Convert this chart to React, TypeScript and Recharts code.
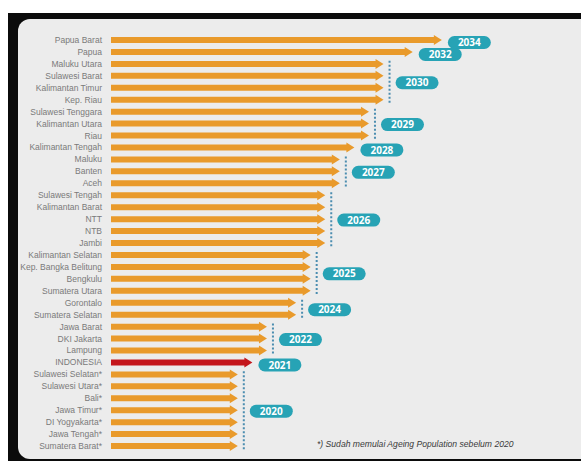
import { BarChart, Bar, XAxis, YAxis, ReferenceLine } from 'recharts';

const provinces = [
  'Papua Barat', 'Papua', 'Maluku Utara', 'Sulawesi Barat', 'Kalimantan Timur', 'Kep. Riau',
  'Sulawesi Tenggara', 'Kalimantan Utara', 'Riau', 'Kalimantan Tengah', 'Maluku', 'Banten', 'Aceh',
  'Sulawesi Tengah', 'Kalimantan Barat', 'NTT', 'NTB', 'Jambi', 'Kalimantan Selatan',
  'Kep. Bangka Belitung', 'Bengkulu', 'Sumatera Utara', 'Gorontalo', 'Sumatera Selatan',
  'Jawa Barat', 'DKI Jakarta', 'Lampung', 'INDONESIA', 'Sulawesi Selatan*', 'Sulawesi Utara*',
  'Bali*', 'Jawa Timur*', 'DI Yogyakarta*', 'Jawa Tengah*', 'Sumatera Barat*',
];

// year each province starts its ageing population
const years = [
  2034, 2032, 2030, 2030, 2030, 2030,
  2029, 2029, 2029, 2028, 2027, 2027, 2027,
  2026, 2026, 2026, 2026, 2026, 2025,
  2025, 2025, 2025, 2024, 2024,
  2022, 2022, 2022, 2021, 2020, 2020,
  2020, 2020, 2020, 2020, 2020,
];

const highlight = 'INDONESIA';
const footnote = '*) Sudah memulai Ageing Population sebelum 2020';

const data = provinces.map((name, i) => ({ name, year: years[i] }));

// consecutive rows with the same year share one badge
const groups: { year: number; from: string; to: string }[] = [];
provinces.forEach((p, i) => {
  const last = groups[groups.length - 1];
  if (last && last.year === years[i]) last.to = p;
  else groups.push({ year: years[i], from: p, to: p });
});

const ORANGE = '#e99a2b';
const RED = '#c4161c';
const TEAL = '#27a3b5';
const DOTS = '#4b8db0';
const FONT = "'Liberation Sans', Arial, sans-serif";

function Arrow(props: any) {
  const { x, y, width, height, payload } = props;
  const head = 8;
  const cy = y + height / 2;
  const end = x + width;
  const fill = payload.name === highlight ? RED : ORANGE;
  return (
    <path
      d={`M${x},${y} H${end - head} V${cy - 5} L${end},${cy} L${end - head},${cy + 5} V${y + height} H${x} Z`}
      fill={fill}
    />
  );
}

function ProvinceTick({ x, y, payload }: any) {
  return (
    <text x={x} y={y} dy={3} textAnchor="end" fill="#7a7a7a" fontSize={8.5} fontFamily={FONT}>
      {payload.value}
    </text>
  );
}

function YearBadge(props: any) {
  const { x1, y1, y2, year } = props;
  const dx = x1 + 6;
  const multi = Math.abs(y2 - y1) > 1;
  const mid = multi ? (y1 + y2) / 2 + 1 : y1 + 2.5;
  const bx = multi ? dx + 6 : x1 + 6;
  return (
    <g>
      {multi && (
        <line x1={dx} x2={dx} y1={y1 - 3} y2={y2 + 5}
          stroke={DOTS} strokeWidth={2} strokeDasharray="2 2" />
      )}
      <rect x={bx} y={mid - 6.5} width={43} height={13} rx={6.5} fill={TEAL} />
      <text x={bx + 21.5} y={mid + 3.6} textAnchor="middle" fill="#fff"
        fontSize={10} fontWeight={700} fontFamily="'Open Sans', sans-serif">
        {year}
      </text>
    </g>
  );
}

export default function App() {
  return (
    <div style={{ position: 'absolute', left: 0, top: 0, width: 581, height: 462, background: '#fff' }}>
      <svg width={581} height={462} style={{ position: 'absolute', left: 0, top: 0 }}>
        <rect x={8} y={13} width={573} height={448} fill="#0b0b0b" />
        <rect x={18} y={19} width={590} height={440} rx={12} fill="#ececec" />
        <text x={317} y={447} fontSize={8.6} fontStyle="italic" fill="#3a3a3a" fontFamily={FONT}>
          {footnote}
        </text>
      </svg>
      <div style={{ position: 'absolute', left: 0, top: 0 }}>
        <BarChart width={581} height={462} data={data} layout="vertical"
          margin={{ top: 34, right: 110, bottom: 10, left: 8 }}>
          <XAxis type="number" dataKey="year" domain={[2011.3, 2036]} hide allowDataOverflow />
          <YAxis
            type="category" dataKey="name" width={103} interval={0}
            axisLine={false} tickLine={false} tickMargin={3}
            tick={<ProvinceTick />}
          />
          <Bar dataKey="year" barSize={6} shape={<Arrow />} isAnimationActive={false} />
          {groups.map(g => (
            <ReferenceLine
              key={g.year}
              segment={[{ x: g.year, y: g.from }, { x: g.year, y: g.to }]}
              shape={(p: any) => <YearBadge {...p} year={g.year} />}
            />
          ))}
        </BarChart>
      </div>
    </div>
  );
}
